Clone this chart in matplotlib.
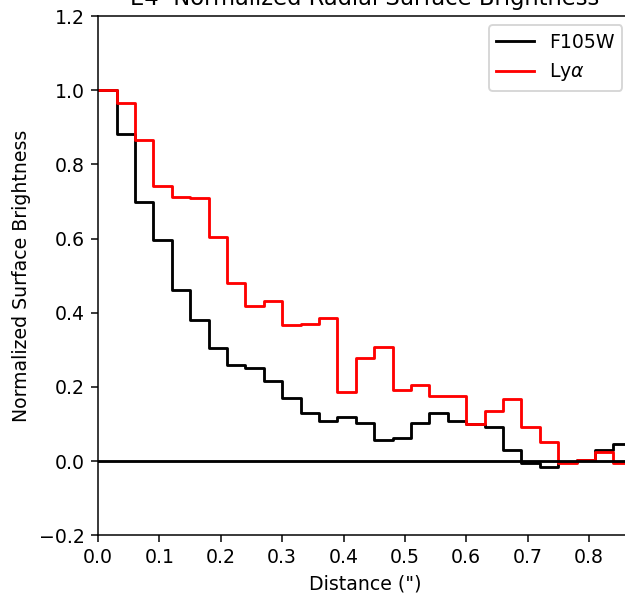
import matplotlib
matplotlib.use("Agg")
import matplotlib.pyplot as plt

# ----------------------------------------------------------------------
# Radial profile bins (left edges, arcsec) and normalized brightness
# ----------------------------------------------------------------------

distance = [0.00, 0.03, 0.06, 0.09, 0.12, 0.15, 0.18, 0.21, 0.24, 0.27,
            0.30, 0.33, 0.36, 0.39, 0.42, 0.45, 0.48, 0.51, 0.54, 0.57,
            0.60, 0.63, 0.66, 0.69, 0.72, 0.75, 0.78, 0.81, 0.84]
last_edge = 0.87

f105w = [1.000, 0.883, 0.698, 0.596, 0.461, 0.380, 0.305, 0.259, 0.250, 0.216,
         0.171, 0.130, 0.108, 0.120, 0.102, 0.056, 0.062, 0.103, 0.130, 0.109,
         0.099, 0.092, 0.030, -0.004, -0.017, -0.002, 0.003, 0.030, 0.045]

lya = [1.000, 0.966, 0.865, 0.741, 0.711, 0.708, 0.604, 0.479, 0.418, 0.431,
       0.367, 0.369, 0.385, 0.187, 0.279, 0.308, 0.192, 0.204, 0.175, 0.175,
       0.101, 0.135, 0.168, 0.092, 0.050, -0.006, 0.003, 0.025, -0.006]

DPI = 136

fig = plt.figure(figsize=(625 / DPI, 594 / DPI), dpi=DPI)
ax = fig.add_axes([0.157, 0.099, 0.854, 0.874])

xs = distance + [last_edge]
ax.plot(xs, f105w + [f105w[-1]], drawstyle="steps-post", color="black",
        linewidth=1.5, label="F105W")
ax.plot(xs, lya + [lya[-1]], drawstyle="steps-post", color="red",
        linewidth=1.5, label=r"Ly$\alpha$")
ax.axhline(0, color="black", linewidth=1.5)

ax.set_xlim(0, last_edge)
ax.set_ylim(-0.2, 1.2)
ax.set_xticks([0.0, 0.1, 0.2, 0.3, 0.4, 0.5, 0.6, 0.7, 0.8])
ax.set_xlabel('Distance (")')
ax.set_ylabel("Normalized Surface Brightness")
ax.set_title("E4  Normalized Radial Surface Brightness")
ax.legend(loc="upper right")

fig.savefig("out.png", dpi=DPI)
